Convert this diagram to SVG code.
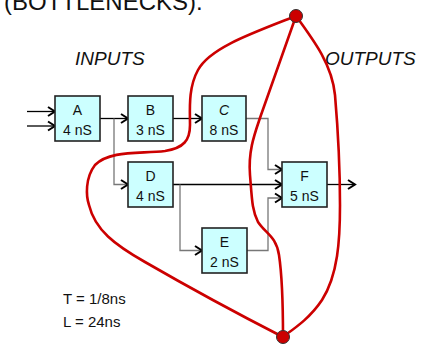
<svg xmlns="http://www.w3.org/2000/svg" width="428" height="344" viewBox="0 0 428 344">
<style>
.box{fill:#ccffff;stroke:#222;stroke-width:1.6}
.lbl{font-family:"Liberation Sans",Arial,sans-serif;font-size:14px;fill:#111;text-anchor:middle}
.blk{fill:none;stroke:#000;stroke-width:1.3}
.gry{fill:none;stroke:#777;stroke-width:1.3}
.red{fill:none;stroke:#cc0000;stroke-width:2.6;stroke-linecap:round}
.dot{fill:#cc0000;stroke:#333;stroke-width:1}
.big{font-family:"Liberation Sans",Arial,sans-serif;fill:#111}
</style>
<defs>
<marker id="ah" markerWidth="12" markerHeight="12" refX="9" refY="6" orient="auto" markerUnits="userSpaceOnUse">
<path d="M2,1.5 L9,6 L2,10.5" fill="none" stroke="#000" stroke-width="2"/>
</marker>
</defs>
<rect width="428" height="344" fill="#fff"/>
<text class="big" x="4" y="10" font-size="24">(BOTTLENECKS).</text>
<text class="big" x="75" y="65" font-size="19" font-style="italic">INPUTS</text>
<text class="big" x="325" y="65" font-size="19" font-style="italic">OUTPUTS</text>
<text class="big" x="63" y="304" font-size="15">T = 1/8ns</text>
<text class="big" x="63" y="327" font-size="15">L = 24ns</text>
<g id="connectors">
<line class="blk" x1="27" y1="111.5" x2="55" y2="111.5" marker-end="url(#ah)"/>
<line class="blk" x1="27" y1="126" x2="55" y2="126" marker-end="url(#ah)"/>
<line class="blk" x1="100" y1="118.5" x2="128" y2="118.5" marker-end="url(#ah)"/>
<polyline class="gry" points="114,118.5 114,184.5 128,184.5" marker-end="url(#ah)"/>
<line class="blk" x1="173" y1="118.5" x2="202" y2="118.5" marker-end="url(#ah)"/>
<polyline class="gry" points="246,118.5 268,118.5 268,169.5 282,169.5" marker-end="url(#ah)"/>
<line class="blk" x1="173" y1="184.5" x2="282" y2="184.5" marker-end="url(#ah)"/>
<polyline class="gry" points="180,184.5 180,250.5 202,250.5" marker-end="url(#ah)"/>
<polyline class="gry" points="247,250.5 268,250.5 268,198 282,198" marker-end="url(#ah)"/>
<line class="blk" x1="327" y1="184.5" x2="355" y2="184.5" marker-end="url(#ah)"/>
</g>
<g id="A"><rect class="box" x="55" y="96" width="45" height="45"/><text class="lbl" x="77.5" y="115">A</text><text class="lbl" x="77.5" y="135">4 nS</text></g>
<g id="B"><rect class="box" x="128" y="96" width="45" height="45"/><text class="lbl" x="150.5" y="115">B</text><text class="lbl" x="150.5" y="135">3 nS</text></g>
<g id="C"><rect class="box" x="202" y="96" width="44" height="45"/><text class="lbl" x="224" y="115" font-style="italic">C</text><text class="lbl" x="224" y="135">8 nS</text></g>
<g id="D"><rect class="box" x="128" y="162" width="45" height="45"/><text class="lbl" x="150.5" y="181">D</text><text class="lbl" x="150.5" y="201">4 nS</text></g>
<g id="E"><rect class="box" x="202" y="228" width="45" height="45"/><text class="lbl" x="224.5" y="247">E</text><text class="lbl" x="224.5" y="267">2 nS</text></g>
<g id="F"><rect class="box" x="282" y="162" width="45" height="45"/><text class="lbl" x="304.5" y="181">F</text><text class="lbl" x="304.5" y="201">5 nS</text></g>
<g id="cuts">
<path class="red" d="M296,16 C250,34 210,48 198,70 C188,88 190,110 190,125 C190,140 184,148 165,151 C140,154 110,150 95,165 C85,178 86,196 89,205 C95,230 115,245 145,262 C190,288 240,315 283,337"/>
<path class="red" d="M296,16 L261,115 C255,133 248,150 250,175 C252,200 252,210 258,222 C266,234 276,236 279,255 C282,275 283,310 283,337"/>
<path class="red" d="M296,16 C315,42 332,65 335,95 C338,130 340,170 340,205 C340,240 338,275 322,300 C310,318 295,328 284,336"/>
<circle class="dot" cx="296" cy="16" r="6.5"/>
<circle class="dot" cx="283" cy="337" r="6.5"/>
</g>
</svg>
